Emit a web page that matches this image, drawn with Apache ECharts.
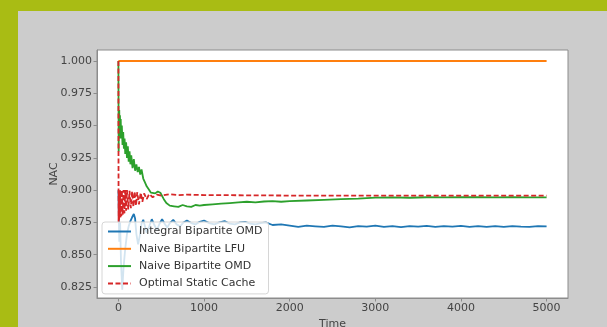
<!DOCTYPE html>
<html>
<head>
<meta charset="utf-8">
<script src="https://cdn.jsdelivr.net/npm/echarts@6/dist/echarts.min.js"></script>
<style>
  html, body { margin: 0; padding: 0; background: #cccccc; }
  #chart { width: 607px; height: 327px; }
</style>
</head>
<body>
<div id="chart"></div>
<script>
// tick labels
const xTicks = [0, 1000, 2000, 3000, 4000, 5000];
const yTicks = [0.825, 0.85, 0.875, 0.9, 0.925, 0.95, 0.975, 1.0];

// Integral Bipartite OMD
const intTime = [0, 10, 20, 30, 45, 60, 80, 100, 120, 140, 160, 180, 195, 210, 230, 250, 270, 290, 310, 330, 360, 390, 420, 450, 480, 510, 540, 570, 600, 640, 680, 720, 760, 800, 850, 900, 950, 1000, 1060, 1120, 1180, 1240, 1300, 1360, 1420, 1480, 1540, 1600, 1660, 1720, 1800, 1900, 2000, 2100, 2200, 2300, 2400, 2500, 2600, 2700, 2800, 2900, 3000, 3100, 3200, 3300, 3400, 3500, 3600, 3700, 3800, 3900, 4000, 4100, 4200, 4300, 4400, 4500, 4600, 4700, 4800, 4900, 5000];
const intVal = [0.9, 0.86, 0.875, 0.845, 0.823, 0.84, 0.855, 0.866, 0.872, 0.876, 0.879, 0.8815, 0.878, 0.866, 0.858, 0.865, 0.874, 0.877, 0.872, 0.867, 0.872, 0.8775, 0.873, 0.869, 0.874, 0.8775, 0.874, 0.871, 0.8745, 0.877, 0.8735, 0.872, 0.875, 0.8765, 0.8745, 0.8735, 0.8755, 0.8765, 0.8745, 0.8735, 0.875, 0.876, 0.874, 0.8735, 0.875, 0.8755, 0.874, 0.8735, 0.8745, 0.875, 0.873, 0.8735, 0.8725, 0.8715, 0.8725, 0.872, 0.8715, 0.8725, 0.872, 0.8712, 0.8722, 0.8718, 0.8725, 0.8715, 0.8722, 0.8714, 0.8722, 0.8718, 0.8724, 0.8716, 0.8722, 0.8717, 0.8723, 0.8716, 0.8722, 0.8715, 0.8721, 0.8716, 0.8722, 0.8717, 0.8715, 0.8721, 0.8719];

// Naive Bipartite LFU
const lfuTime = [0, 5000];
const lfuVal = [1.0, 1.0];

// Naive Bipartite OMD
const omdTime = [0, 3, 6, 10, 14, 18, 22, 27, 32, 40, 48, 56, 64, 72, 80, 90, 100, 110, 120, 130, 140, 150, 165, 180, 195, 210, 225, 240, 255, 270, 290, 310, 330, 350, 380, 400, 430, 460, 490, 510, 530, 560, 600, 650, 700, 750, 800, 850, 900, 950, 1000, 1100, 1200, 1300, 1400, 1500, 1600, 1700, 1800, 1900, 2000, 2200, 2400, 2600, 2800, 3000, 3200, 3400, 3600, 3800, 4000, 4200, 4400, 4600, 4800, 5000];
const omdVal = [1.0, 0.93, 0.955, 0.962, 0.94, 0.958, 0.945, 0.955, 0.94, 0.95, 0.935, 0.945, 0.932, 0.94, 0.928, 0.937, 0.925, 0.934, 0.922, 0.93, 0.92, 0.927, 0.917, 0.924, 0.915, 0.92, 0.914, 0.918, 0.912, 0.916, 0.909, 0.906, 0.903, 0.901, 0.898, 0.899, 0.8975, 0.899, 0.898, 0.8965, 0.893, 0.89, 0.888, 0.8875, 0.887, 0.8885, 0.8875, 0.887, 0.8885, 0.888, 0.8885, 0.889, 0.8895, 0.89, 0.8905, 0.891, 0.8905, 0.8912, 0.8915, 0.891, 0.8915, 0.892, 0.8925, 0.893, 0.8935, 0.8942, 0.8944, 0.8941, 0.8945, 0.8944, 0.8946, 0.8945, 0.8944, 0.8946, 0.8944, 0.8944];

// Optimal Static Cache
const optTime = [0, 2, 5, 8, 12, 16, 20, 25, 30, 35, 40, 50, 60, 70, 80, 90, 100, 115, 130, 145, 160, 175, 190, 205, 220, 240, 260, 280, 300, 330, 360, 400, 450, 500, 600, 700, 800, 1000, 1500, 2000, 2500, 3000, 3500, 4000, 4500, 5000];
const optVal = [1.0, 0.875, 0.898, 0.877, 0.9, 0.878, 0.9, 0.879, 0.9, 0.88, 0.9, 0.881, 0.9, 0.882, 0.9, 0.884, 0.9, 0.885, 0.8995, 0.886, 0.899, 0.887, 0.899, 0.888, 0.8985, 0.889, 0.898, 0.891, 0.8975, 0.893, 0.897, 0.8945, 0.8965, 0.8958, 0.8968, 0.8962, 0.8965, 0.8962, 0.896, 0.8958, 0.8957, 0.8957, 0.8958, 0.8957, 0.8958, 0.8957];

const zip = (t, v) => t.map((x, i) => [x, v[i]]);

const font = 'DejaVu Sans';
const axisColor = '#8c8c8c';
const labelColor = '#444';

const mychart = echarts.init(document.getElementById('chart'));

function lineSeries(name, data, color, type) {
  return {
    name: name,
    type: 'line',
    data: data,
    symbol: 'none',
    animation: false,
    lineStyle: { color: color, width: 1.8, type: type || 'solid' },
    itemStyle: { color: color },
  };
}

const option = {
  backgroundColor: '#cccccc',
  animation: false,
  graphic: [
    { type: 'rect', left: 0, top: 0, shape: { width: 607, height: 11 }, style: { fill: '#a9bc14' } },
    { type: 'rect', left: 0, top: 0, shape: { width: 18, height: 327 }, style: { fill: '#a9bc14' } },
  ],
  grid: {
    left: 97,
    top: 50,
    right: 39,
    bottom: 29,
    outerBoundsMode: 'none',
    containLabel: false,
    show: true,
    backgroundColor: '#ffffff',
    borderColor: axisColor,
    borderWidth: 1,
  },
  legend: {
    orient: 'vertical',
    left: 102,
    top: 222,
    itemWidth: 23,
    itemHeight: 11,
    itemGap: 4.3,
    padding: [3, 6, 4, 5],
    backgroundColor: 'rgba(255,255,255,0.8)',
    borderColor: '#d6d6d6',
    borderWidth: 1,
    borderRadius: 3,
    itemStyle: { opacity: 0 },
    textStyle: { fontFamily: font, fontSize: 11, color: '#333', lineHeight: 13, padding: [0, 0, 0, 3] },
    data: ['Integral Bipartite OMD', 'Naive Bipartite LFU', 'Naive Bipartite OMD', 'Optimal Static Cache'],
  },
  xAxis: {
    type: 'value',
    min: -250,
    max: 5250,
    name: 'Time',
    nameLocation: 'middle',
    nameGap: 20,
    nameTextStyle: { fontFamily: font, fontSize: 11, color: labelColor },
    axisLine: { show: true, onZero: false, lineStyle: { color: axisColor } },
    axisTick: { show: true, length: 3.5, lineStyle: { color: axisColor }, customValues: xTicks },
    axisLabel: { fontFamily: font, fontSize: 11, color: labelColor, margin: 5, customValues: xTicks, formatter: (v) => String(v) },
    splitLine: { show: false },
  },
  yAxis: {
    type: 'value',
    min: 0.8165,
    max: 1.0085,
    name: 'NAC',
    nameLocation: 'middle',
    nameRotate: 90,
    nameGap: 37,
    nameMoveOverlap: false,
    nameTextStyle: { fontFamily: font, fontSize: 11, color: labelColor },
    axisLine: { show: true, onZero: false, lineStyle: { color: axisColor } },
    axisTick: { show: true, length: 3.5, lineStyle: { color: axisColor }, customValues: yTicks },
    axisLabel: {
      fontFamily: font, fontSize: 11, color: labelColor, margin: 5,
      customValues: yTicks,
      formatter: (v) => v.toFixed(3),
    },
    splitLine: { show: false },
  },
  series: [
    lineSeries('Integral Bipartite OMD', zip(intTime, intVal), '#1f77b4'),
    lineSeries('Naive Bipartite LFU', zip(lfuTime, lfuVal), '#ff7f0e'),
    lineSeries('Naive Bipartite OMD', zip(omdTime, omdVal), '#2ca02c'),
    lineSeries('Optimal Static Cache', zip(optTime, optVal), '#d62728', [5, 2.5]),
  ],
};

mychart.setOption(option);
</script>
</body>
</html>
